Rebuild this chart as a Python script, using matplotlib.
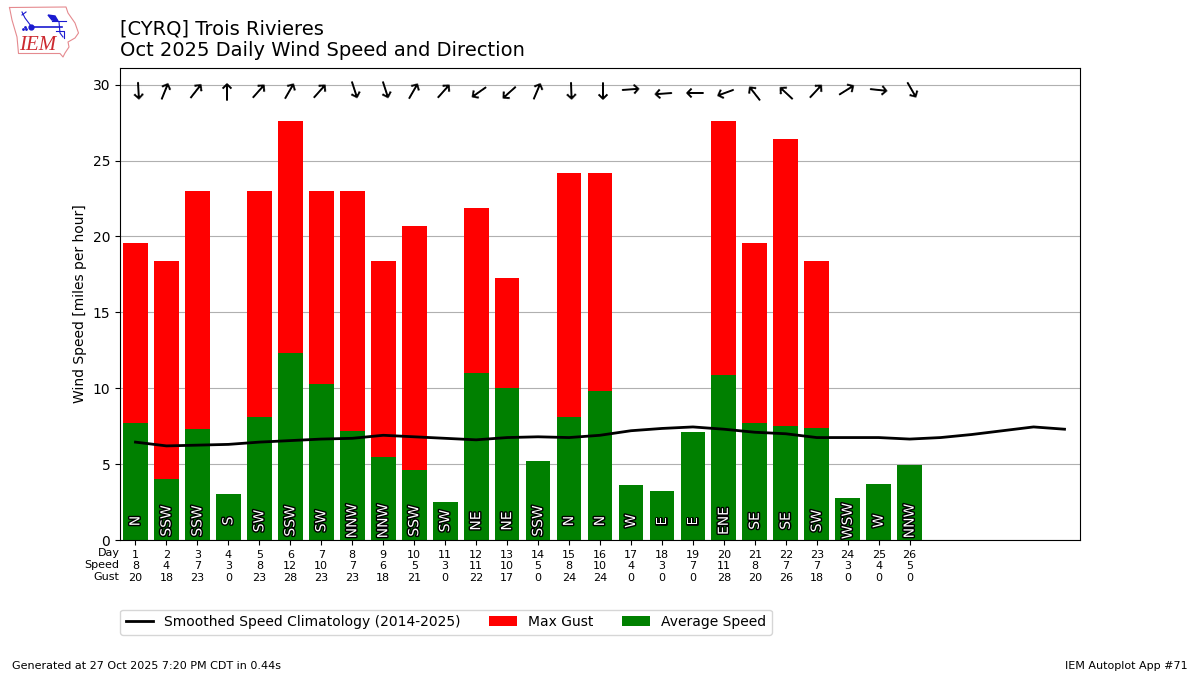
import matplotlib
matplotlib.use("Agg")
import matplotlib.pyplot as plt
import matplotlib.patheffects as pe

days = list(range(1, 27))
avg_speed = [7.7, 4.0, 7.3, 3.0, 8.1, 12.3, 10.3, 7.2, 5.5, 4.6, 2.5, 11.0, 10.0,
             5.2, 8.1, 9.8, 3.6, 3.2, 7.1, 10.9, 7.7, 7.5, 7.4, 2.8, 3.7, 4.95]
max_gust = [19.6, 18.4, 23.0, 0, 23.0, 27.6, 23.0, 23.0, 18.4, 20.7, 0, 21.85, 17.25,
            0, 24.15, 24.15, 0, 0, 0, 27.6, 19.6, 26.45, 18.4, 0, 0, 0]
dir_labels = ["N", "SSW", "SSW", "S", "SW", "SSW", "SW", "NNW", "NNW", "SSW", "SW", "NE", "NE",
              "SSW", "N", "N", "W", "E", "E", "ENE", "SE", "SE", "SW", "WSW", "W", "NNW"]
arrow_angles = [-87, 68, 52, 90, 48, 60, 48, -72, -72, 60, 48, 215, 222,
                67, -88, -90, 4, 184, 180, 200, 128, 137, 47, 32, -6, -60]
speed_labels = [8, 4, 7, 3, 8, 12, 10, 7, 6, 5, 3, 11, 10, 5, 8, 10, 4, 3, 7, 11, 8, 7, 7, 3, 4, 5]
gust_labels = [20, 18, 23, 0, 23, 28, 23, 23, 18, 21, 0, 22, 17, 0, 24, 24, 0, 0, 0, 28, 20, 26, 18, 0, 0, 0]
clim_days = list(range(1, 32))
clim_speed = [6.45, 6.2, 6.25, 6.3, 6.45, 6.55, 6.65, 6.7, 6.9, 6.8, 6.7, 6.6, 6.75, 6.8,
              6.75, 6.9, 7.2, 7.35, 7.45, 7.3, 7.1, 7.0, 6.75, 6.75, 6.75, 6.65, 6.75,
              6.95, 7.2, 7.45, 7.3]

W, H = 1200, 675
fig = plt.figure(figsize=(12, 6.75), dpi=100)
ax = fig.add_axes([120 / W, 1 - 540 / H, 960 / W, 472 / H])

ax.bar(days, max_gust, width=0.8, color="red", label="Max Gust", zorder=2)
ax.bar(days, avg_speed, width=0.8, color="green", label="Average Speed", zorder=2)
ax.plot(clim_days, clim_speed, color="k", lw=2,
        label="Smoothed Speed Climatology (2014-2025)", zorder=3)

for d, lab, ang in zip(days, dir_labels, arrow_angles):
    ax.text(d, 1.25, lab, rotation=90, ha="center", va="center", color="white", fontsize=10,
            zorder=4, path_effects=[pe.withStroke(linewidth=2, foreground="k")])
    ax.text(d - 0.02, 29.62, "\u2192", rotation=ang, rotation_mode="anchor", ha="center",
            va="center", fontsize=17, color="k", zorder=4)

ax.set_xlim(0.5, 31.5)
ax.set_ylim(0, 31.1)
ax.set_yticks([0, 5, 10, 15, 20, 25, 30])
ax.set_xticks(days)
ax.set_xticklabels([f"{d}\n{s}\n{g}" for d, s, g in zip(days, speed_labels, gust_labels)], fontsize=8)
ax.set_ylabel("Wind Speed [miles per hour]", fontsize=10)
ax.yaxis.grid(True, color="#b0b0b0", lw=0.8)
ax.set_axisbelow(True)

fig.text(119.5 / W, 1 - 553 / H, "Day", ha="right", va="center", fontsize=8)
fig.text(119.5 / W, 1 - 565 / H, "Speed", ha="right", va="center", fontsize=8)
fig.text(119.5 / W, 1 - 577 / H, "Gust", ha="right", va="center", fontsize=8)

fig.text(120 / W, 1 - 29 / H, "[CYRQ] Trois Rivieres", fontsize=14, va="center")
fig.text(120 / W, 1 - 50.5 / H, "Oct 2025 Daily Wind Speed and Direction", fontsize=14, va="center")

handles, labels = ax.get_legend_handles_labels()
order = [labels.index("Smoothed Speed Climatology (2014-2025)"), labels.index("Max Gust"), labels.index("Average Speed")]
ax.legend([handles[i] for i in order], [labels[i] for i in order], ncol=3, fontsize=10,
          loc="upper left", bbox_to_anchor=(120 / W, 1 - 609.5 / H), bbox_transform=fig.transFigure,
          borderaxespad=0, columnspacing=2.05)

fig.text(12 / W, 1 - 666 / H, "Generated at 27 Oct 2025 7:20 PM CDT in 0.44s", fontsize=8, va="center")
fig.text(1188 / W, 1 - 666 / H, "IEM Autoplot App #71", fontsize=8, va="center", ha="right")

# IEM logo, drawn in pixel coordinates of the figure
logo = fig.add_axes([0, 1 - 60 / H, 85 / W, 60 / H])
logo.set_xlim(0, 85)
logo.set_ylim(60, 0)
logo.axis("off")
outline_x = [9.5, 66, 68, 75, 78.5, 75, 68, 69, 65, 63, 60, 18.5, 17, 12, 9.5]
outline_y = [7.5, 7, 13, 23, 33, 38, 42, 47, 53, 57, 53.5, 53.5, 37, 20, 7.5]
logo.plot(outline_x, outline_y, color="#e58a8f", lw=0.8)
logo.plot([31, 62], [26.5, 26.5], color="#1a1ad0", lw=1.2)
logo.plot([31, 25, 22], [26, 18, 12], color="#1a1ad0", lw=0.8)
logo.plot([22, 26], [15, 12], color="#1a1ad0", lw=0.8)
logo.plot([31], [26.5], "o", color="#1a1ad0", ms=3.5)
logo.fill([48, 55, 58, 52], [15, 16, 21, 20], color="#1a1ad0")
logo.plot([52, 66], [21, 21], color="#1a1ad0", lw=0.8)
logo.plot([59, 60, 63], [22, 33, 37], color="#1a1ad0", lw=0.8)
logo.plot([56, 64, 64], [31, 31, 38], color="#1a1ad0", lw=0.8)
logo.plot([23, 26, 24.5], [28.5, 28.5, 26.5], ".", color="#1a1ad0", ms=2)
logo.text(37.5, 45.5, "IEM", color="#cc2a30", fontsize=15, family="Liberation Serif",
          style="italic", ha="center", va="center")

fig.savefig("out.png", dpi=100)
